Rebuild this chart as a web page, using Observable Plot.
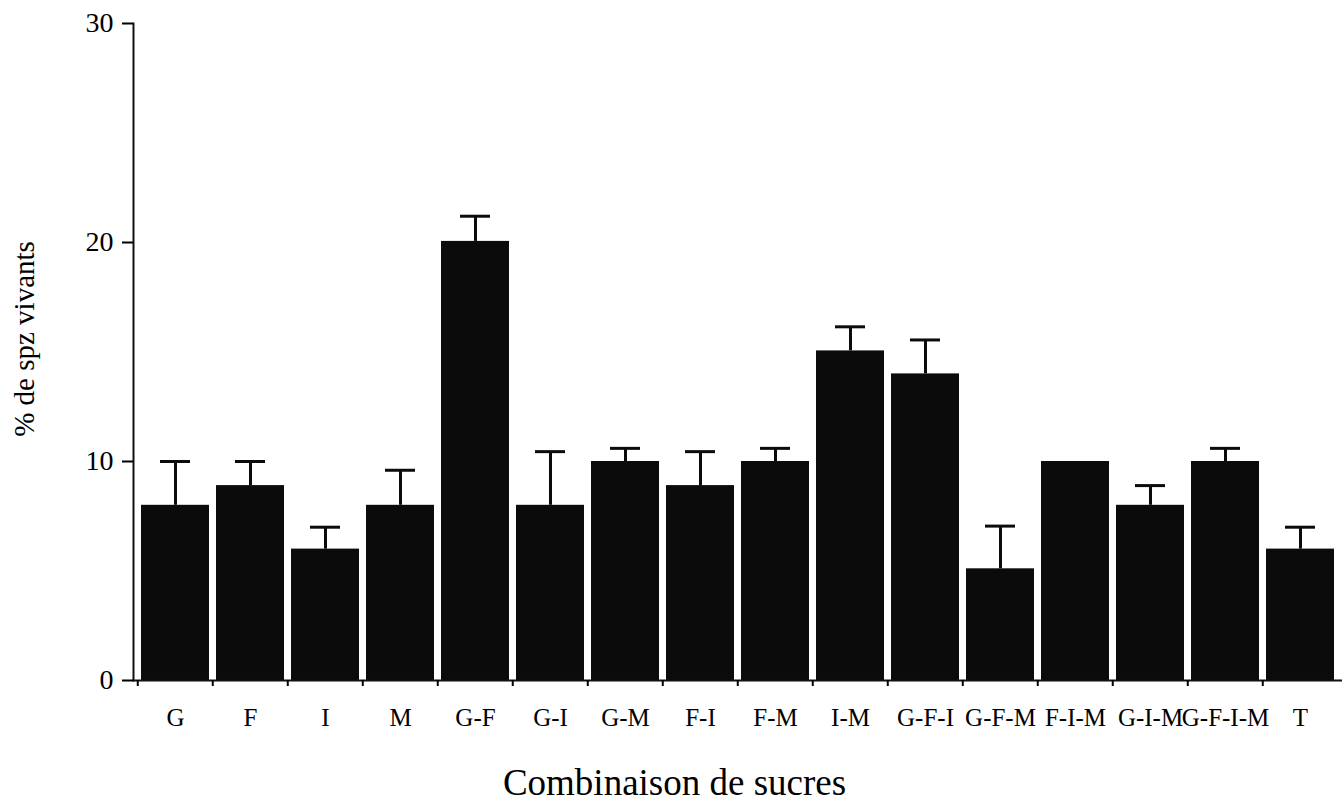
<!DOCTYPE html>
<html>
<head>
<meta charset="utf-8">
<script src="https://cdn.jsdelivr.net/npm/d3@7"></script>
<script src="https://cdn.jsdelivr.net/npm/@observablehq/plot@0.6"></script>
<style>
  html, body { margin: 0; padding: 0; background: #ffffff; }
  #chart svg { display: block; }
</style>
</head>
<body>
<div id="chart"></div>
<script>
// Data
const categories = ["G", "F", "I", "M", "G-F", "G-I", "G-M", "F-I", "F-M", "I-M", "G-F-I", "G-F-M", "F-I-M", "G-I-M", "G-F-I-M", "T"];
const means      = [8.0, 8.9, 6.0, 8.0, 20.05, 8.0, 10.0, 8.9, 10.0, 15.05, 14.0, 5.1, 10.0, 8.0, 10.0, 6.0];
const upperError = [10.0, 10.0, 7.0, 9.6, 21.2, 10.45, 10.6, 10.45, 10.6, 16.15, 15.55, 7.05, 10.0, 8.9, 10.6, 7.0];
const yTicks = [0, 10, 20, 30];
const yLabel = "% de spz vivants";
const xLabel = "Combinaison de sucres";

const data = categories.map((c, i) => ({cat: c, value: means[i], err: upperError[i]}));
const errData = data.filter(d => d.err > d.value);

const W = 1342, H = 806;
const mL = 133, mR = 1, mT = 23, mB = 126;
const step = (W - mL - mR) / categories.length;
const font = "'Liberation Serif', 'Times New Roman', serif";

const chart = Plot.plot({
  width: W,
  height: H,
  marginLeft: mL,
  marginRight: mR,
  marginTop: mT,
  marginBottom: mB,
  style: {fontFamily: font, background: "#ffffff", color: "#000"},
  x: {domain: categories, paddingInner: 0.095, paddingOuter: 0.0475, label: null},
  y: {domain: [0, 30], label: null},
  marks: [
    Plot.barY(data, {x: "cat", y: "value", fill: "#0b0b0b"}),
    Plot.ruleX(errData, {x: "cat", y1: "value", y2: "err", stroke: "#0b0b0b", strokeWidth: 3}),
    Plot.tickY(errData, {x: "cat", y: "err", stroke: "#0b0b0b", strokeWidth: 3, insetLeft: 19, insetRight: 19}),
    Plot.frame({anchor: "bottom", stroke: "#111", strokeWidth: 2}),
    Plot.frame({anchor: "left", stroke: "#111", strokeWidth: 2}),
    Plot.axisY({ticks: yTicks, tickSize: 11, tickPadding: 9, fontSize: 28, strokeWidth: 2, label: null, tickFormat: d => String(d)}),
    Plot.axisX({tickSize: 6, dx: -step / 2, strokeWidth: 2, tickFormat: () => "", label: null}),
    Plot.axisX({tickSize: 0, tickPadding: 28, fontSize: 25, label: null}),
    Plot.text([xLabel], {frameAnchor: "bottom", dx: -63, dy: 103, fontSize: 37, lineAnchor: "middle"}),
    Plot.text([yLabel], {frameAnchor: "left", rotate: -90, dx: -109, dy: -13, fontSize: 29, textAnchor: "middle", lineAnchor: "middle"})
  ]
});
document.getElementById("chart").appendChild(chart);
</script>
</body>
</html>
